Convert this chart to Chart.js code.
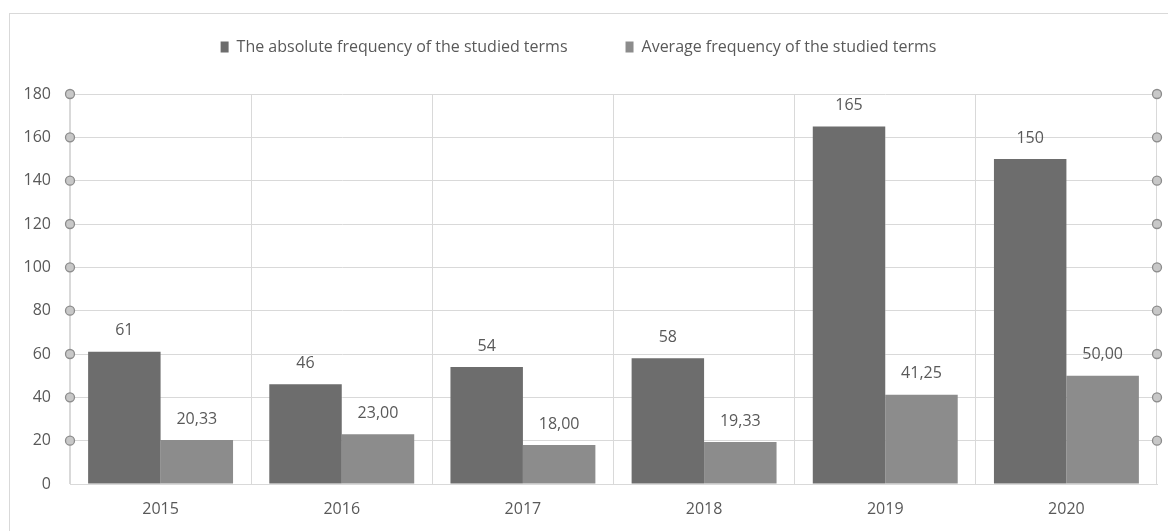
<!DOCTYPE html>
<html>
<head>
<meta charset="utf-8">
<script src="https://cdn.jsdelivr.net/npm/chart.js@4"></script>
<style>
  html, body { margin: 0; padding: 0; background: #fff; }
  #wrap { position: relative; width: 1168px; height: 531px; overflow: hidden; }
  #frame { position: absolute; left: 9px; top: 13px; width: 1170px; height: 540px; border: 1px solid #d9d9d9; box-sizing: border-box; }
  canvas { position: absolute; left: 0; top: 0; }
</style>
</head>
<body>
<div id="wrap">
  <div id="frame"></div>
  <canvas id="chart" width="1168" height="531"></canvas>
</div>
<script>
const years = ["2015", "2016", "2017", "2018", "2019", "2020"];
const absoluteFreq = [61, 46, 54, 58, 165, 150];
const averageFreq = [20.33, 23.0, 18.0, 19.33, 41.25, 50.0];
const seriesNames = [
  "The absolute frequency of the studied terms",
  "Average frequency of the studied terms",
];

const FONT = "'Open Sans', sans-serif";
const TEXT = "#595959";

/* value labels above bars */
const barLabels = {
  id: "barLabels",
  afterDatasetsDraw(chart) {
    const c = chart.ctx;
    c.save();
    c.font = "16px " + FONT;
    c.fillStyle = TEXT;
    c.textAlign = "center";
    c.textBaseline = "middle";
    chart.data.datasets.forEach((ds, i) => {
      chart.getDatasetMeta(i).data.forEach((bar, j) => {
        const v = ds.data[j];
        const txt = i === 0 ? String(v) : v.toFixed(2).replace(".", ",");
        c.fillText(txt, bar.x, bar.y - 21);
      });
    });
    c.restore();
  },
};

/* little circles on both sides at each y tick */
const tickDots = {
  id: "tickDots",
  afterDraw(chart) {
    const c = chart.ctx;
    const y = chart.scales.y;
    const area = chart.chartArea;
    c.save();
    c.lineWidth = 1.3;
    c.strokeStyle = "#8c8c8c";
    c.fillStyle = "#c8c8c8";
    y.ticks.forEach((t) => {
      if (t.value === 0) return;
      const py = y.getPixelForValue(t.value);
      [area.left, area.right].forEach((px) => {
        c.beginPath();
        c.arc(px, py, 4.5, 0, Math.PI * 2);
        c.fill();
        c.stroke();
      });
    });
    c.restore();
  },
};

const legendHeight = {
  id: "legendHeight",
  beforeInit(chart) {
    const fit = chart.legend.fit;
    chart.legend.fit = function () {
      fit.bind(chart.legend)();
      this.height = 113;
    };
  },
};

new Chart(document.getElementById("chart"), {
  type: "bar",
  data: {
    labels: years,
    datasets: [
      {
        label: seriesNames[0],
        data: absoluteFreq,
        backgroundColor: "#6d6d6d",
        categoryPercentage: 0.8,
        barPercentage: 1,
      },
      {
        label: seriesNames[1],
        data: averageFreq,
        backgroundColor: "#8c8c8c",
        categoryPercentage: 0.8,
        barPercentage: 1,
      },
    ],
  },
  options: {
    responsive: false,
    animation: false,
    layout: { padding: { top: -19, right: 11, left: 0, bottom: 0 } },
    plugins: {
      legend: {
        position: "top",
        labels: {
          boxWidth: 8,
          boxHeight: 11,
          color: TEXT,
          font: { family: FONT, size: 16 },
          padding: 58,
        },
      },
      tooltip: { enabled: false },
    },
    scales: {
      x: {
        grid: { color: "#d9d9d9", drawTicks: false, offset: true },
        border: { color: "#d9d9d9" },
        ticks: { color: TEXT, font: { family: FONT, size: 16 }, padding: 16 },
        afterFit(s) { s.height = 47; },
      },
      y: {
        min: 0,
        max: 180,
        ticks: { stepSize: 20, color: TEXT, font: { family: FONT, size: 16 }, padding: 19 },
        grid: { color: "#d9d9d9", drawTicks: false },
        border: { color: "#d9d9d9" },
        afterFit(s) { s.width = 70; },
      },
    },
  },
  plugins: [barLabels, tickDots, legendHeight],
});
</script>
</body>
</html>
